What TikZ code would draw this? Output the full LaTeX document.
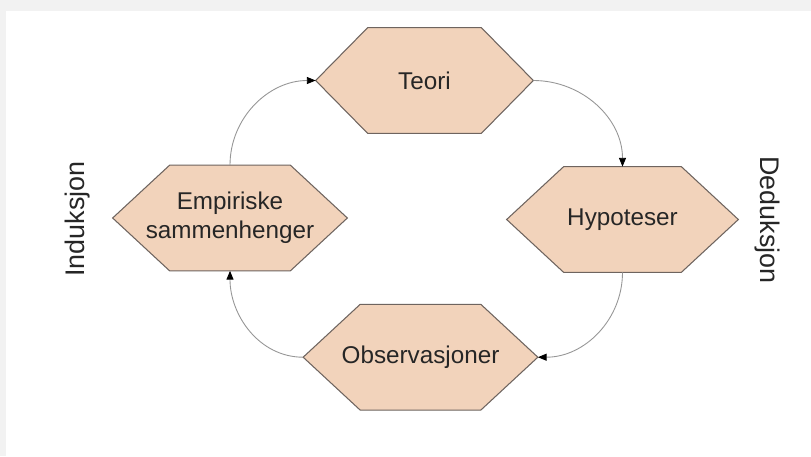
\documentclass[tikz,border=0pt]{standalone}
\usepackage{fontspec}
\setmainfont{Liberation Sans}
\usepackage{tikz}
\usetikzlibrary{arrows.meta,positioning,backgrounds}
\usepackage{xcolor}

\definecolor{hexfill}{RGB}{242,211,187}
\definecolor{hexline}{RGB}{110,100,95}
\definecolor{linkgray}{RGB}{150,150,150}

\begin{document}
\begin{tikzpicture}[
    hexbox/.style={minimum width=4.68cm, minimum height=2.1cm, inner sep=0pt,
      align=center, text=black!85, font=\fontsize{13.8}{16.5}\selectfont},
    hexdraw/.style={draw=hexline, fill=hexfill, line width=0.6pt},
    arrow/.style={-{Triangle[length=5pt, width=4pt, color=black]}, linkgray, line width=0.5pt},
    lbl/.style={text=black!85, font=\fontsize{15.3}{18}\selectfont}
  ]

  % frame
  \useasboundingbox (0,0) rectangle (16.22,-9.12);
  \begin{scope}[on background layer]
    \fill[gray!10] (0,0) rectangle (16.22,-9.12);
    \fill[white] (0.12,-0.22) rectangle (16.22,-9.12);
  \end{scope}

  % The four steps
  \node[hexbox, minimum width=4.34cm] (teori) at (8.49,-1.61) {Teori};
  \node[hexbox] (empiri) at (4.60,-4.36) {Empiriske\\sammenhenger};
  \node[hexbox, minimum width=4.62cm] (hypo) at (12.45,-4.39) {Hypoteser};
  \node[hexbox, below=3.42cm of teori, xshift=-0.08cm] (obs) {Observasjoner};

  % hexagon outlines behind the text
  \begin{scope}[on background layer]
    \foreach \n/\d in {teori/1.04, empiri/1.14, hypo/1.14, obs/1.14}
      \draw[hexdraw] (\n.west) -- ([xshift=\d cm]\n.north west) -- ([xshift=-\d cm]\n.north east)
        -- (\n.east) -- ([xshift=-\d cm]\n.south east) -- ([xshift=\d cm]\n.south west) -- cycle;
  \end{scope}

  % Side labels
  \node[lbl, rotate=90] (induk) at (1.56,-4.38) {Induksjon};
  \node[lbl, rotate=-90] (deduk) at (15.34,-4.40) {Deduksjon};

  % Arrows round the cycle
  \draw[arrow] (empiri.north) to[out=90, in=180] (teori.west);
  \draw[arrow] (teori.east) to[out=0, in=90] (hypo.north);
  \draw[arrow] (hypo.south) to[out=270, in=0] (obs.east);
  \draw[arrow] (obs.west) to[out=180, in=270] (empiri.south);

\end{tikzpicture}
\end{document}
